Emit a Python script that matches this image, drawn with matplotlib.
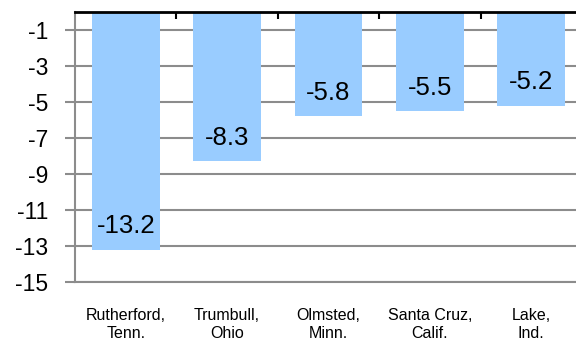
import matplotlib

matplotlib.use("Agg")
import matplotlib.pyplot as plt  # noqa: E402

plt.rcParams["font.family"] = ["Liberation Sans", "DejaVu Sans"]

counties = ["Rutherford,\nTenn.", "Trumbull,\nOhio", "Olmsted,\nMinn.",
            "Santa Cruz,\nCalif.", "Lake,\nInd."]
changes = [-13.2, -8.3, -5.8, -5.5, -5.2]
yticks = [-1, -3, -5, -7, -9, -11, -13, -15]

fig = plt.figure(figsize=(5.76, 3.44), dpi=100)
ax = fig.add_axes([75 / 576, 1 - 282 / 344, 507 / 576, 270 / 344])

xs = list(range(len(changes)))
ax.bar(xs, changes, width=0.67, color="#99ccff", zorder=2)

for x, v in zip(xs, changes):
    ax.text(x, v + 1.3, f"{v:.1f}", ha="center", va="center", fontsize=18.5, zorder=3)

ax.set_xlim(-0.5, len(changes) - 0.5)
ax.set_ylim(-15, 0)
ax.set_yticks(yticks)
ax.set_yticklabels([str(t) for t in yticks], fontsize=16.5)
ax.yaxis.grid(True, color="#8c8c8c", linewidth=1.5, zorder=1)

ax.set_xticks(xs)
ax.set_xticklabels(counties, fontsize=11.5, linespacing=1.2)
ax.tick_params(axis="x", which="major", length=0, pad=19)
ax.set_xticks([i + 0.5 for i in xs[:-1]], minor=True)
ax.tick_params(axis="x", which="minor", top=True, bottom=False, direction="in",
               length=5, width=1.5, color="black")
ax.tick_params(axis="y", length=7, width=1.5, color="#8c8c8c", pad=12)

ax.spines["right"].set_visible(False)
ax.spines["top"].set_color("black")
ax.spines["top"].set_linewidth(2)
ax.spines["left"].set_color("#8c8c8c")
ax.spines["left"].set_linewidth(1.5)
ax.spines["bottom"].set_color("#8c8c8c")
ax.spines["bottom"].set_linewidth(1.5)

fig.savefig("out.png", dpi=100)
